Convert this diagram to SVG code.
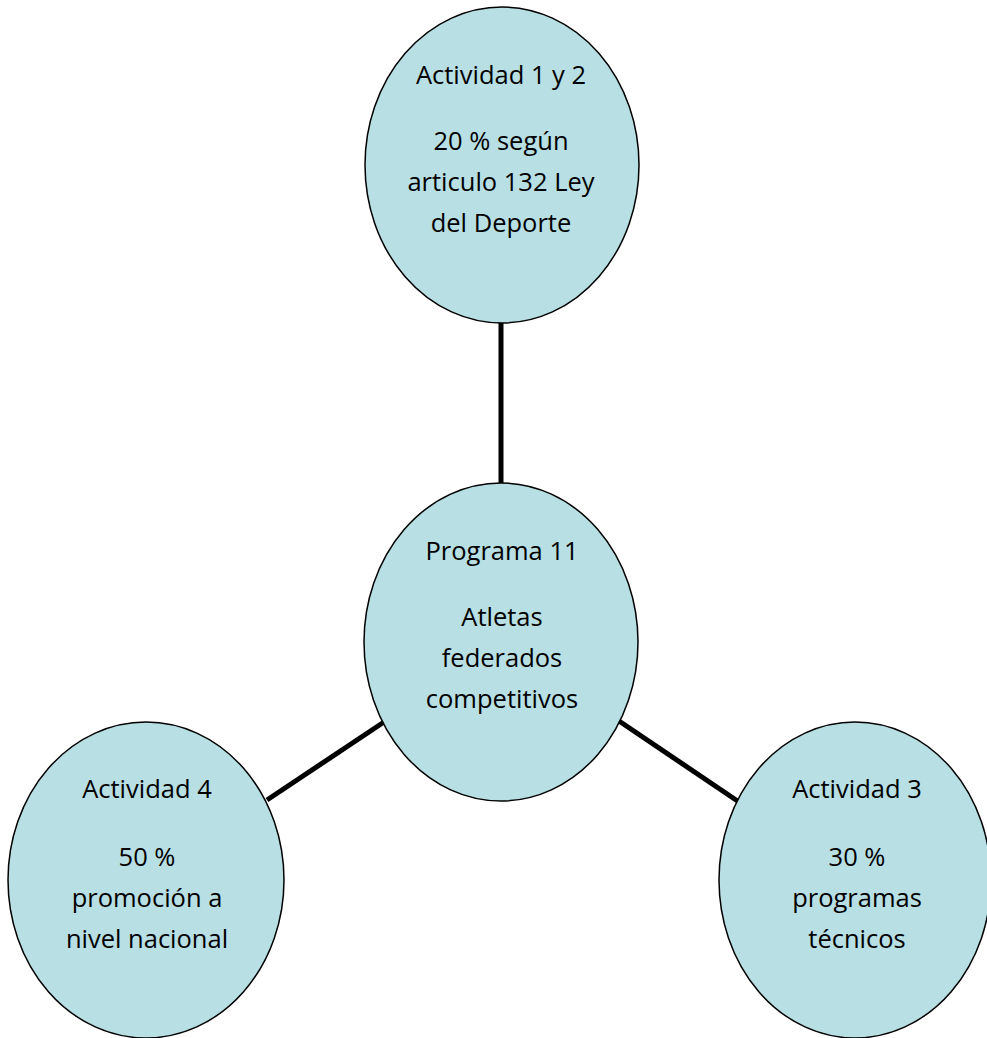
<svg xmlns="http://www.w3.org/2000/svg" width="987" height="1038" viewBox="0 0 987 1038">
<style>
.n{fill:#b8dfe3;stroke:#000;stroke-width:1.5}
.t{font-family:"Open Sans","Liberation Sans",sans-serif;font-size:25.5px;fill:#000;text-anchor:middle}
.c{stroke:#000;stroke-width:5;fill:none}
</style>
<rect width="987" height="1038" fill="#fff"/>
<g id="connectors">
<line class="c" x1="501" y1="320" x2="501" y2="486"/>
<line class="c" x1="267" y1="800" x2="384" y2="722"/>
<line class="c" x1="619" y1="721" x2="739" y2="802"/>
</g>
<g id="node-top">
<ellipse class="n" cx="502" cy="165" rx="137" ry="158"/>
<text class="t" x="501" y="84">Actividad 1 y 2</text>
<text class="t" x="501" y="150">20 % según</text>
<text class="t" x="501" y="191">articulo 132 Ley</text>
<text class="t" x="501" y="232">del Deporte</text>
</g>
<g id="node-center">
<ellipse class="n" cx="501" cy="642" rx="137" ry="159"/>
<text class="t" x="502" y="560">Programa 11</text>
<text class="t" x="502" y="626">Atletas</text>
<text class="t" x="502" y="667">federados</text>
<text class="t" x="502" y="708">competitivos</text>
</g>
<g id="node-left">
<ellipse class="n" cx="146" cy="880" rx="138" ry="158"/>
<text class="t" x="147" y="798">Actividad 4</text>
<text class="t" x="147" y="866">50 %</text>
<text class="t" x="147" y="907">promoción a</text>
<text class="t" x="147" y="948">nivel nacional</text>
</g>
<g id="node-right">
<ellipse class="n" cx="855" cy="880" rx="136" ry="158"/>
<text class="t" x="857" y="798">Actividad 3</text>
<text class="t" x="857" y="866">30 %</text>
<text class="t" x="857" y="907">programas</text>
<text class="t" x="857" y="948">técnicos</text>
</g>
</svg>
